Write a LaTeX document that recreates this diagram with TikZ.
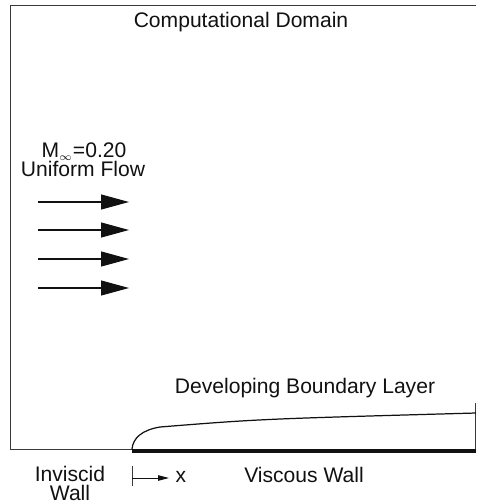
\documentclass[tikz,border=0pt]{standalone}
\usepackage{fontspec}
\setmainfont{Liberation Sans}
\usetikzlibrary{arrows.meta,positioning}
\definecolor{ink}{HTML}{111111}
\definecolor{inkgray}{HTML}{3A3A3A}
\tikzset{
  domainline/.style={draw=inkgray,line width=0.55pt},
  wallline/.style={draw=ink,line width=2.4pt},
  layerline/.style={draw=ink,line width=0.7pt},
  flowarr/.style={-{Triangle[length=0.56cm,width=0.3cm]},line width=0.6pt,color=ink},
  xarr/.style={-{Triangle[length=0.22cm,width=0.11cm]},line width=0.5pt,color=ink},
  txt/.style={font=\fontsize{12}{14}\selectfont,inner sep=0pt,anchor=base,text=ink}
}

\begin{document}
\begin{tikzpicture}[x=0.02cm,y=-0.02cm,>=Latex]
  \useasboundingbox (0,0) rectangle (476,503);
  % domain corners
  \coordinate (tl) at (10,5);
  \coordinate (tr) at (476,5);
  \coordinate (bl) at (10,449);
  \coordinate (le) at (132,449);
  \coordinate (te) at (476,451);
  \draw[domainline] (tr) -- (tl) -- (bl) -- (le);
  \draw[domainline] (475,403) -- (475,452);
  \draw[wallline] (132,451) -- (te);
  \draw[layerline] (le) .. controls (133,438) and (142,430) .. (160,427)
    .. controls (260,419) .. (476,413);
  % uniform flow arrows
  \foreach \yy/\nm in {202/a,230/b,259/c,288/d} {
    \coordinate (s\nm) at (38,\yy);
    \coordinate (e\nm) at (129,\yy);
    \draw[flowarr] (s\nm) -- (e\nm);
  }
  % x axis
  \coordinate (xtop) at (132,466);
  \coordinate (xbot) at (132,486);
  \coordinate (xtip) at (169,478);
  \draw[inkgray,line width=0.5pt] (xtop) -- (xbot);
  \draw[xarr] (132,478) -- (xtip);
  \node[txt] (domain) at (241,28) {Computational Domain};
  \node[txt] (mach) at (84,157) {M$_{\scriptscriptstyle\infty}$=0.20};
  \node[txt] (uniform) at (83,176) {Uniform Flow};
  \node[txt] (layer) at (305,393) {Developing Boundary Layer};
  \node[txt] (inviscid) at (70,481) {Inviscid};
  \node[txt] (invwall) at (70,500) {Wall};
  \node[txt] (xlab) at (181,482) {x};
  \node[txt] (viscous) at (304,482) {Viscous Wall};
\end{tikzpicture}
\end{document}
